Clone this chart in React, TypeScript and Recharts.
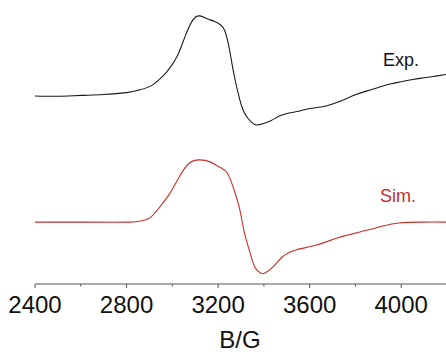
import { LineChart, Line, XAxis, YAxis, Customized } from 'recharts'

// magnetic field (G) and intensity (a.u., offset so both traces share one axis)
const expField = [2400, 2500, 2600, 2700, 2800, 2850, 2900, 2940, 2975, 3020, 3055, 3090, 3120, 3150, 3185, 3210, 3230, 3250, 3270, 3295, 3315, 3345, 3370, 3395, 3430, 3470, 3510, 3550, 3600, 3650, 3700, 3750, 3800, 3850, 3900, 3950, 4000, 4050, 4100, 4150, 4200]
const expSignal = [66.2, 66.1, 66.4, 66.7, 67.4, 68.2, 69.5, 71.8, 74.6, 80.0, 87.0, 93.0, 94.4, 93.5, 92.4, 91.3, 89.0, 82.4, 73.5, 64.8, 60.2, 57.0, 56.0, 56.4, 57.5, 59.2, 60.2, 60.8, 61.8, 62.3, 63.4, 64.9, 66.6, 68.0, 69.2, 70.4, 71.2, 72.0, 72.6, 73.2, 73.8]

const simField = [2400, 2600, 2810, 2860, 2900, 2945, 2990, 3030, 3075, 3120, 3165, 3205, 3240, 3270, 3295, 3315, 3340, 3360, 3385, 3405, 3440, 3480, 3540, 3630, 3720, 3820, 3920, 3990, 4090, 4200]
const simSignal = [21.8, 21.8, 21.8, 22.2, 23.2, 27.1, 32.0, 37.7, 42.6, 43.7, 43.0, 41.2, 39.1, 33.1, 26.1, 18.0, 10.9, 6.0, 3.9, 3.9, 6.0, 9.5, 12.0, 13.7, 16.2, 18.3, 20.4, 21.5, 21.8, 21.8]

const majorTicks = [2400, 2800, 3200, 3600, 4000]
const allTicks = [2400, 2600, 2800, 3000, 3200, 3400, 3600, 3800, 4000, 4200]

const FONT = 'Arial, "Liberation Sans", sans-serif'
const RED = '#c4302b'
const AXIS = '#555555'

const expData = expField.map((b, i) => ({ b, v: expSignal[i] }))
const simData = simField.map((b, i) => ({ b, v: simSignal[i] }))

function FieldTick(props: any) {
  const { x, y, payload } = props
  const major = majorTicks.includes(payload.value)
  return (
    <g>
      <line x1={x} y1={y} x2={x} y2={y + (major ? 4 : 2.5)} stroke={AXIS} strokeWidth={1} />
      {major && (
        <text x={x} y={y + 29} textAnchor="middle" fontSize={24} fontFamily={FONT} fill="#111">
          {payload.value}
        </text>
      )}
    </g>
  )
}

function Labels() {
  return (
    <g fontFamily={FONT} fontSize={18}>
      <text x={383} y={66} fill="#111">Exp.</text>
      <text x={380} y={202} fill={RED}>Sim.</text>
      <text x={240} y={348} textAnchor="middle" fontSize={24} fill="#111">B/G</text>
    </g>
  )
}

export default function App() {
  return (
    <div style={{ position: 'absolute', left: 0, top: 0, width: 446, height: 352, overflow: 'hidden', background: '#fff' }}>
      <LineChart width={447} height={352} margin={{ top: 0, right: 0, left: 35, bottom: 0 }}>
        <XAxis
          type="number"
          dataKey="b"
          domain={[2400, 4200]}
          ticks={allTicks}
          allowDataOverflow
          height={68}
          stroke={AXIS}
          tickLine={false}
          tickSize={0}
          tickMargin={0}
          tick={<FieldTick />}
          interval={0}
        />
        <YAxis type="number" domain={[0, 100]} hide />
        <Line data={expData} dataKey="v" type="natural" stroke="#1a1a1a" strokeWidth={1.1} dot={false} isAnimationActive={false} />
        <Line data={simData} dataKey="v" type="natural" stroke={RED} strokeWidth={1.1} dot={false} isAnimationActive={false} />
        <Customized component={<Labels />} />
      </LineChart>
    </div>
  )
}
